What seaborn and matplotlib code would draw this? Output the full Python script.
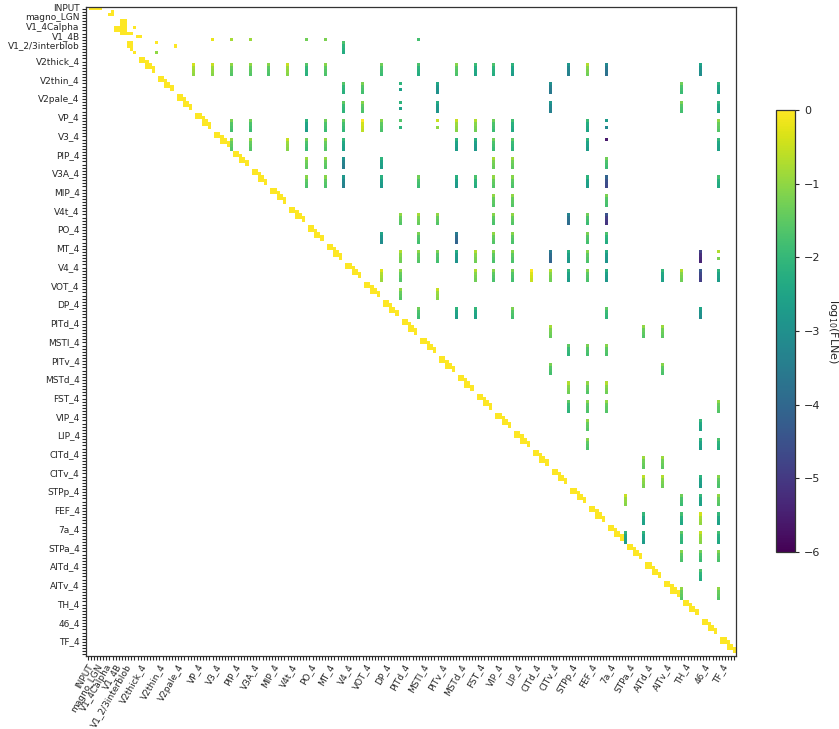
import numpy as np
import pandas as pd
import matplotlib
matplotlib.use('Agg')
import matplotlib.pyplot as plt
import seaborn as sns

# areas with 6 populations each, after the 16 input / V1 rows
areas = ['V2thick', 'V2thin', 'V2pale', 'VP', 'V3', 'PIP', 'V3A', 'MIP', 'V4t', 'PO',
         'MT', 'V4', 'VOT', 'DP', 'PITd', 'MSTl', 'PITv', 'MSTd', 'FST', 'VIP', 'LIP',
         'CITd', 'CITv', 'STPp', 'FEF', '7a', 'STPa', 'AITd', 'AITv', 'TH', '46', 'TF']
early_labels = ['INPUT', 'magno_LGN', 'V1_4Calpha', 'V1_4B', 'V1_2/3interblob']
early_label_rows = [0, 3, 6, 9, 12]
n_early = 16
n_pop = 6

# self-connections in the input / V1 part: (row, col, log10 FLNe)
early_cells = [(0, 1, 0), (0, 2, 0), (0, 3, 0), (0, 4, 0),
               (1, 8, 0), (2, 7, 0), (2, 8, 0),
               (4, 11, 0), (4, 12, 0), (5, 11, 0), (5, 12, 0),
               (6, 9, 0), (6, 10, 0), (6, 11, 0), (6, 12, 0), (6, 15, 0),
               (7, 9, 0), (7, 10, 0), (7, 11, 0), (7, 12, 0),
               (8, 11, 0), (8, 12, 0), (8, 13, 0), (8, 14, 0),
               (9, 16, 0), (9, 17, 0),
               (11, 13, 0), (11, 14, 0), (12, 13, 0), (12, 14, 0), (13, 14, 0), (14, 15, 0),
               (11, 22, 0), (12, 28, 0), (14, 22, -1.0)]

# V1_4B projections to the areas (single cells on row 10), and one bar to V4
v1_row = 10
v1_targets = ['V3', 'PIP', 'V3A', 'PO', 'MT', 'MSTl']
v1_values = [-0.2, -0.8, -0.9, -1.3, -1.2, -1.8]
v1_bar = ('V4', -2.2)

# within-area block (row offset, col offset)
self_block = [(0, 1), (0, 2), (1, 1), (1, 2), (1, 3),
              (2, 3), (2, 4), (3, 3), (3, 4), (3, 5), (4, 5)]

# inter-area bars: (row area, column area, log10 FLNe)
bars = [
    ('V2thick', 'VP', -0.9), ('V2thick', 'V3', -1.0), ('V2thick', 'PIP', -1.5), ('V2thick', 'V3A', -1.5),
    ('V2thick', 'MIP', -1.6), ('V2thick', 'V4t', -1.0), ('V2thick', 'PO', -2.1), ('V2thick', 'MT', -1.6),
    ('V2thick', 'DP', -1.8), ('V2thick', 'MSTl', -2.2), ('V2thick', 'MSTd', -1.6), ('V2thick', 'FST', -2.4),
    ('V2thick', 'VIP', -2.2), ('V2thick', 'LIP', -2.6), ('V2thick', 'STPp', -3.3), ('V2thick', 'FEF', -1.2),
    ('V2thick', '7a', -3.7), ('V2thick', '46', -3.0),
    ('V2thin', 'V4', -2.1), ('V2thin', 'VOT', -1.7), ('V2thin', 'PITv', -2.9), ('V2thin', 'CITv', -3.5),
    ('V2thin', 'TH', -1.8), ('V2thin', 'TF', -2.6),
    ('V2pale', 'V4', -2.0), ('V2pale', 'VOT', -1.6), ('V2pale', 'PITv', -2.8), ('V2pale', 'CITv', -3.3),
    ('V2pale', 'TH', -1.7), ('V2pale', 'TF', -2.5),
    ('VP', 'PIP', -1.7), ('VP', 'V3A', -1.8), ('VP', 'PO', -2.6), ('VP', 'MT', -1.8), ('VP', 'V4', -1.9),
    ('VP', 'VOT', -0.5), ('VP', 'DP', -1.6), ('VP', 'MSTd', -1.0), ('VP', 'FST', -1.2), ('VP', 'VIP', -1.8),
    ('VP', 'LIP', -2.3), ('VP', 'FEF', -2.4), ('VP', 'TF', -1.5),
    ('V3', 'PIP', -1.5), ('V3', 'V3A', -1.5), ('V3', 'V4t', -1.0), ('V3', 'PO', -1.8), ('V3', 'MT', -1.5),
    ('V3', 'V4', -2.5), ('V3', 'MSTd', -2.6), ('V3', 'FST', -2.7), ('V3', 'VIP', -1.8), ('V3', 'LIP', -2.0),
    ('V3', 'FEF', -2.6), ('V3', 'TF', -2.5),
    ('PIP', 'PO', -1.4), ('PIP', 'MT', -1.5), ('PIP', 'V4', -3.4), ('PIP', 'DP', -2.6), ('PIP', 'VIP', -1.3),
    ('PIP', 'LIP', -1.4), ('PIP', '7a', -1.8),
    ('V3A', 'PO', -1.6), ('V3A', 'MT', -1.6), ('V3A', 'V4', -3.3), ('V3A', 'DP', -2.7), ('V3A', 'MSTl', -1.8),
    ('V3A', 'MSTd', -2.7), ('V3A', 'FST', -2.2), ('V3A', 'VIP', -1.5), ('V3A', 'LIP', -1.6), ('V3A', 'FEF', -2.6),
    ('V3A', '7a', -4.6), ('V3A', 'TF', -2.3),
    ('MIP', 'VIP', -1.5), ('MIP', 'LIP', -1.5), ('MIP', '7a', -1.7),
    ('V4t', 'PITd', -1.5), ('V4t', 'MSTl', -1.3), ('V4t', 'PITv', -1.5), ('V4t', 'VIP', -1.6), ('V4t', 'LIP', -1.5),
    ('V4t', 'STPp', -3.8), ('V4t', 'FEF', -1.8), ('V4t', '7a', -5.0),
    ('PO', 'DP', -3.0), ('PO', 'MSTl', -1.7), ('PO', 'MSTd', -4.0), ('PO', 'VIP', -1.5), ('PO', 'LIP', -1.6),
    ('PO', 'FEF', -1.7), ('PO', '7a', -2.2),
    ('MT', 'PITd', -1.2), ('MT', 'MSTl', -1.5), ('MT', 'PITv', -1.7), ('MT', 'MSTd', -2.8), ('MT', 'FST', -1.2),
    ('MT', 'VIP', -1.6), ('MT', 'LIP', -1.6), ('MT', 'CITv', -4.0), ('MT', 'STPp', -2.7), ('MT', 'FEF', -1.6),
    ('MT', '7a', -2.8), ('MT', '46', -5.3),
    ('V4', 'DP', -0.8), ('V4', 'PITd', -1.5), ('V4', 'FST', -1.2), ('V4', 'VIP', -1.6), ('V4', 'LIP', -1.7),
    ('V4', 'CITd', -0.4), ('V4', 'CITv', -1.2), ('V4', 'STPp', -2.6), ('V4', 'FEF', -1.6), ('V4', '7a', -2.7),
    ('V4', 'AITv', -2.5), ('V4', 'TH', -1.2), ('V4', '46', -4.8), ('V4', 'TF', -2.6),
    ('VOT', 'PITd', -1.5), ('VOT', 'PITv', -1.0),
    ('DP', 'MSTl', -1.8), ('DP', 'MSTd', -2.6), ('DP', 'FST', -2.5), ('DP', 'LIP', -1.7), ('DP', '7a', -2.0),
    ('DP', '46', -3.0),
    ('PITd', 'CITv', -1.3), ('PITd', 'AITd', -1.5), ('PITd', 'AITv', -1.4),
    ('MSTl', 'STPp', -2.0), ('MSTl', 'FEF', -1.7), ('MSTl', '7a', -1.6),
    ('PITv', 'CITv', -1.7), ('PITv', 'AITv', -1.6),
    ('MSTd', 'STPp', -1.2), ('MSTd', 'FEF', -1.5), ('MSTd', '7a', -1.2),
    ('FST', 'STPp', -2.0), ('FST', 'FEF', -1.6), ('FST', '7a', -1.5), ('FST', 'TF', -1.5),
    ('VIP', 'FEF', -1.5), ('VIP', '46', -2.5),
    ('LIP', 'FEF', -1.6), ('LIP', '46', -2.6), ('LIP', 'TF', -2.2),
    ('CITd', 'AITd', -1.4), ('CITd', 'AITv', -1.4),
    ('CITv', 'AITd', -1.1), ('CITv', 'AITv', -1.2), ('CITv', '46', -2.6), ('CITv', 'TF', -1.6),
    ('STPp', 'STPa', -1.0), ('STPp', 'TH', -1.8), ('STPp', '46', -2.5), ('STPp', 'TF', -1.5),
    ('FEF', 'AITd', -2.5), ('FEF', 'TH', -2.3), ('FEF', '46', -0.9), ('FEF', 'TF', -2.5),
    ('7a', 'STPa', -2.6), ('7a', 'AITd', -2.6), ('7a', 'TH', -2.0), ('7a', '46', -1.0), ('7a', 'TF', -2.3),
    ('STPa', 'TH', -1.6), ('STPa', '46', -1.8), ('STPa', 'TF', -1.6),
    ('AITd', '46', -2.2),
    ('AITv', 'TH', -1.5), ('AITv', 'TF', -1.5),
]
# bars that only show every other cell
dotted = [('V2thin', 'PITd', -2.6), ('V2pale', 'PITd', -2.6), ('VP', 'PITd', -2.1),
          ('VP', 'PITv', -1.0), ('VP', '7a', -3.2), ('MT', 'TF', -1.2)]
single = [('V3', '7a', -5.6)]
# top cell of a bar is a bit stronger than the rest
bar_profile = [0.5, 0.1, 0.0, -0.1]

n = n_early + n_pop * len(areas)
start = {a: n_early + n_pop * i for i, a in enumerate(areas)}

M = np.full((n, n), np.nan)
for r, c, v in early_cells:
    M[r, c] = v
for a, v in zip(v1_targets, v1_values):
    M[v1_row, start[a]] = v
for i, d in enumerate(bar_profile):
    M[v1_row + 1 + i, start[v1_bar[0]]] = min(v1_bar[1] + d, 0)
for a in areas:
    b = start[a]
    for dr, dc in self_block:
        if b + dc < n:
            M[b + dr, b + dc] = 0
for tgt, src, v in bars:
    for i, d in enumerate(bar_profile):
        M[start[tgt] + 2 + i, start[src]] = min(v + d, 0)
for tgt, src, v in dotted:
    for i in (0, 2):
        M[start[tgt] + 2 + i, start[src]] = min(v + bar_profile[i], 0)
for tgt, src, v in single:
    M[start[tgt] + 2, start[src]] = v

labels = [''] * n
for lab, r in zip(early_labels, early_label_rows):
    labels[r] = lab
for a in areas:
    labels[start[a] + 1] = a + '_4'

df = pd.DataFrame(M, index=labels, columns=range(n))

sns.set_style('ticks')
fig = plt.figure(figsize=(8.39, 7.29), dpi=100)
ax = fig.add_axes([86 / 839, 1 - 656 / 729, 650 / 839, 649 / 729])
cax = fig.add_axes([776 / 839, 1 - 552 / 729, 19 / 839, 442 / 729])

sns.heatmap(df, cmap='viridis', vmin=-6, vmax=0, ax=ax, cbar_ax=cax,
            xticklabels=labels, yticklabels=labels)

for s in ax.spines.values():
    s.set_visible(True)
    s.set_color('#333333')
    s.set_linewidth(0.9)
ax.tick_params(axis='both', length=3, width=0.8, labelsize=6.5, pad=1.5)
plt.setp(ax.get_xticklabels(), rotation=60, ha='right', rotation_mode='anchor')
plt.setp(ax.get_yticklabels(), rotation=0)

cbar = ax.collections[0].colorbar
cbar.outline.set_visible(True)
cbar.outline.set_edgecolor('#333333')
cbar.outline.set_linewidth(0.9)
cbar.ax.tick_params(labelsize=8, length=3)
cbar.set_label('log$_{10}$(FLNe)', rotation=270, labelpad=14, fontsize=8)

fig.savefig('out.png', dpi=100)
